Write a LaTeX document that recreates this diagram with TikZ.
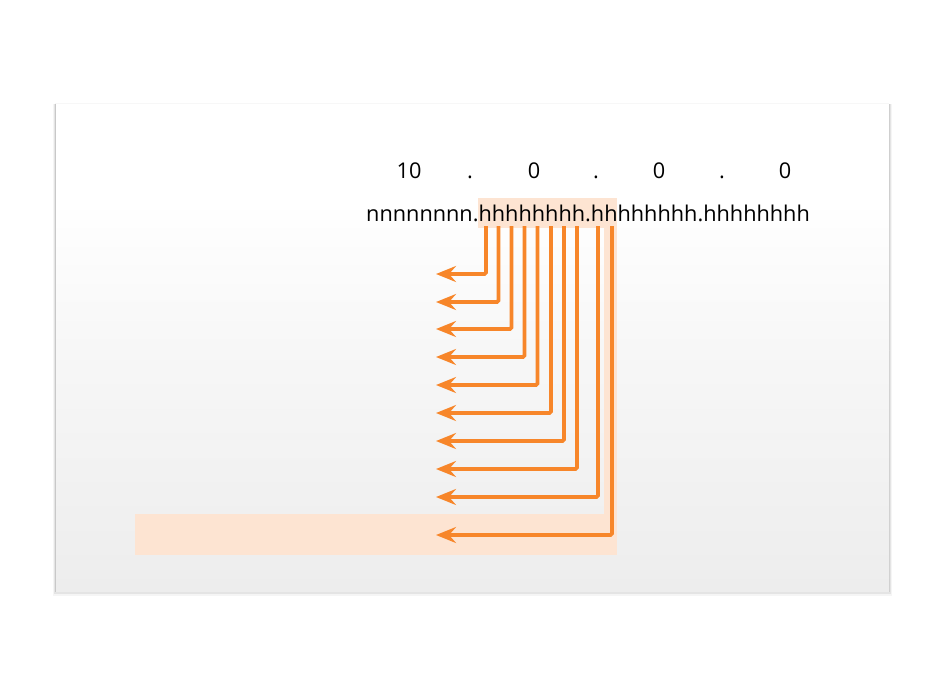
\documentclass[tikz,border=0pt]{standalone}
\usepackage{fontspec}
\setmainfont{Open Sans}
\usetikzlibrary{arrows.meta}
\definecolor{arr}{HTML}{F7862A}
\definecolor{peach}{HTML}{FDE4D2}
\definecolor{panelbot}{HTML}{EDEDED}
\tikzset{
  bit/.style={draw=arr, line width=3.6pt, rounded corners=1.5pt, -{Stealth[length=20pt,width=16pt,inset=7pt]}},
  num/.style={font=\fontsize{21.7}{26}\selectfont, anchor=base, inner sep=0pt},
}
\begin{document}
\begin{tikzpicture}[x=1pt,y=-1pt]
\useasboundingbox (0,0) rectangle (944,681);
% panel shadow
\fill[black,opacity=0.04] (53,104) rectangle (892,596);
\fill[black,opacity=0.07] (54,104) rectangle (891,594);
\fill[black,opacity=0.12] (55,104) rectangle (890,592);
\fill[black!3] (55,103) rectangle (889,104);
% panel
\shade[top color=white, bottom color=panelbot] (56,104) rectangle (889,591);
\fill[white] (56,104) rectangle (889,200);
\shade[top color=white, bottom color=white!55!panelbot] (56,200) rectangle (889,350);
\shade[top color=white!55!panelbot, bottom color=panelbot] (56,350) rectangle (889,591);
% highlights
\fill[peach] (478,198) rectangle (617,228);
\fill[peach] (604,198) rectangle (617,555);
\fill[peach] (135,514) rectangle (614,555);
% numbers
\node[num] (n10) at (409,178) {10};
\node[num] (d1) at (470,178) {.};
\node[num] (o1) at (534,178) {0};
\node[num] (d2) at (596,178) {.};
\node[num] (o2) at (659,178) {0};
\node[num] (d3) at (722,178) {.};
\node[num] (o3) at (785,178) {0};
\node[num, anchor=base west] (bits) at (366,221) {nnnnnnnn.hhhhhhhh.hhhhhhhh.hhhhhhhh};
% arrows
\foreach \i/\x/\y in {1/486/274, 2/498.5/302, 3/511.5/329, 4/524.5/357, 5/537.5/385, 6/551/413, 7/564/441, 8/577/469, 9/598/497, 10/612/535} {
  \coordinate (t\i) at (\x,226);
  \coordinate (e\i) at (436,\y);
  \draw[bit] (t\i) |- (e\i);
}
\end{tikzpicture}
\end{document}
